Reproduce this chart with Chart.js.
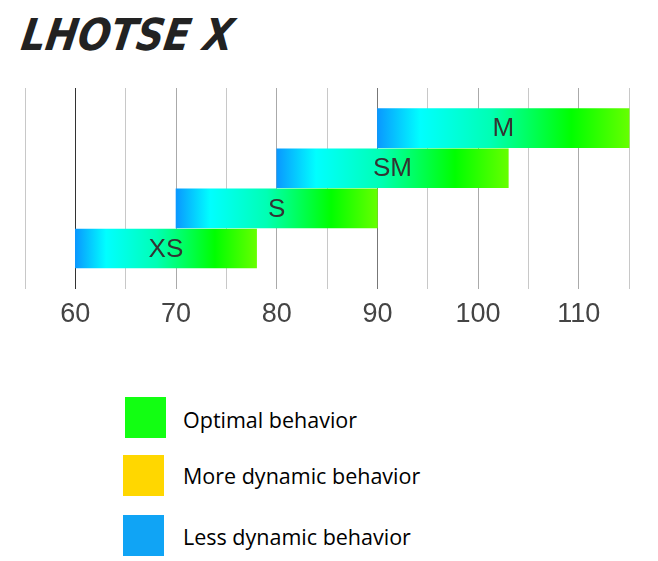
<!DOCTYPE html>
<html>
<head>
<meta charset="utf-8">
<script src="https://cdn.jsdelivr.net/npm/chart.js@4.4.1/dist/chart.umd.min.js"></script>
<style>
  html, body { margin: 0; padding: 0; background: #fff; overflow: hidden; }
  body { width: 658px; height: 561px; position: relative; }
  #logo {
    position: absolute; left: 26px; top: 9px;
    font-family: "DejaVu Sans", sans-serif; font-weight: bold; font-style: italic;
    font-size: 44px; color: #222; letter-spacing: 0px; white-space: pre;
    transform-origin: left top; transform: scaleX(0.87) skewX(-10deg);
  }
  #wrap { position: absolute; left: 0; top: 0; width: 712px; height: 351px; }
  .legend { position: absolute; left: 0; top: 0; font-family: "Open Sans", sans-serif; font-size: 21.5px; color: #000; }
  .box { position: absolute; width: 41px; height: 41px; }
  .txt { position: absolute; left: 183px; white-space: nowrap; line-height: 28px; }
</style>
</head>
<body>
<div id="logo">LHOTSE X</div>
<div id="wrap"><canvas id="chart"></canvas></div>
<div class="legend" id="legend"></div>
<script>
// sizes, top row first
var sizes = ['M', 'SM', 'S', 'XS'];
var rangeStart = [90, 80, 70, 60];
var rangeEnd = [115, 103, 90, 78];

var legendNames = ['Optimal behavior', 'More dynamic behavior', 'Less dynamic behavior'];
var legendColors = ['#12ff12', '#ffd700', '#10a4f5'];

var labels = [''].concat(sizes).concat(['']);
var values = [null];
for (var i = 0; i < sizes.length; i++) {
  values.push([rangeStart[i], rangeEnd[i]]);
}
values.push(null);

function barGradient(c) {
  var chart = c.chart;
  if (!chart.chartArea || !c.raw) return '#00ff00';
  var xs = chart.scales.x;
  var x0 = xs.getPixelForValue(c.raw[0]);
  var x1 = xs.getPixelForValue(c.raw[1]);
  if (!isFinite(x0) || !isFinite(x1)) return '#00ff00';
  var g = chart.ctx.createLinearGradient(x0, 0, x1, 0);
  g.addColorStop(0, '#0a98ff');
  g.addColorStop(0.17, '#00ffff');
  g.addColorStop(0.45, '#00ffb4');
  g.addColorStop(0.77, '#00ff00');
  g.addColorStop(1, '#66ff00');
  return g;
}

var barText = {
  id: 'barText',
  afterDatasetsDraw: function(chart) {
    var ctx = chart.ctx;
    var meta = chart.getDatasetMeta(0);
    ctx.save();
    ctx.font = '26px "Liberation Sans", Arial, sans-serif';
    ctx.fillStyle = '#333';
    ctx.textAlign = 'center';
    ctx.textBaseline = 'middle';
    meta.data.forEach(function(bar, idx) {
      if (!values[idx]) return;
      var p = bar.getProps(['x', 'base', 'y'], true);
      ctx.fillText(labels[idx], (p.x + p.base) / 2, p.y + 1);
    });
    ctx.restore();
  }
};

function gridColor(c) {
  var v = c.tick ? c.tick.value : null;
  if (v == 60) return '#333';
  if (v == 90) return '#777';
  if (v % 10 == 0) return '#aaa';
  return '#c8c8c8';
}

var chart = new Chart(document.getElementById('chart'), {
  type: 'bar',
  data: {
    labels: labels,
    datasets: [{
      data: values,
      backgroundColor: barGradient,
      borderWidth: 0,
      barThickness: 39
    }]
  },
  options: {
    indexAxis: 'y',
    responsive: true,
    maintainAspectRatio: false,
    animation: false,
    layout: { padding: { left: 25, right: 23, top: 88, bottom: 10 } },
    plugins: { legend: { display: false }, tooltip: { enabled: false } },
    scales: {
      y: { display: false, offset: false },
      x: {
        min: 55,
        max: 120,
        border: { display: false },
        grid: { color: gridColor, lineWidth: 1, drawTicks: false },
        ticks: {
          stepSize: 5,
          padding: 10,
          autoSkip: false,
          maxRotation: 0,
          color: '#444',
          font: { family: '"Liberation Sans", Arial, sans-serif', size: 27 },
          callback: function(v) { return (v % 10 == 0 && v > 55) ? v : ''; }
        }
      }
    }
  },
  plugins: [barText]
});

// legend
var legendTops = [397, 455, 515];
var boxLefts = [125, 123, 123];
var textMid = [420, 476, 537];
var html = '';
var legendEl = document.getElementById('legend');
for (var j = 0; j < legendNames.length; j++) {
  html += '<div class="box" style="left:' + boxLefts[j] + 'px;top:' + legendTops[j] + 'px;background:' + legendColors[j] + '"></div>';
  html += '<div class="txt" style="top:' + (textMid[j] - 14) + 'px">' + legendNames[j] + '</div>';
}
legendEl.innerHTML = html;
</script>
</body>
</html>
